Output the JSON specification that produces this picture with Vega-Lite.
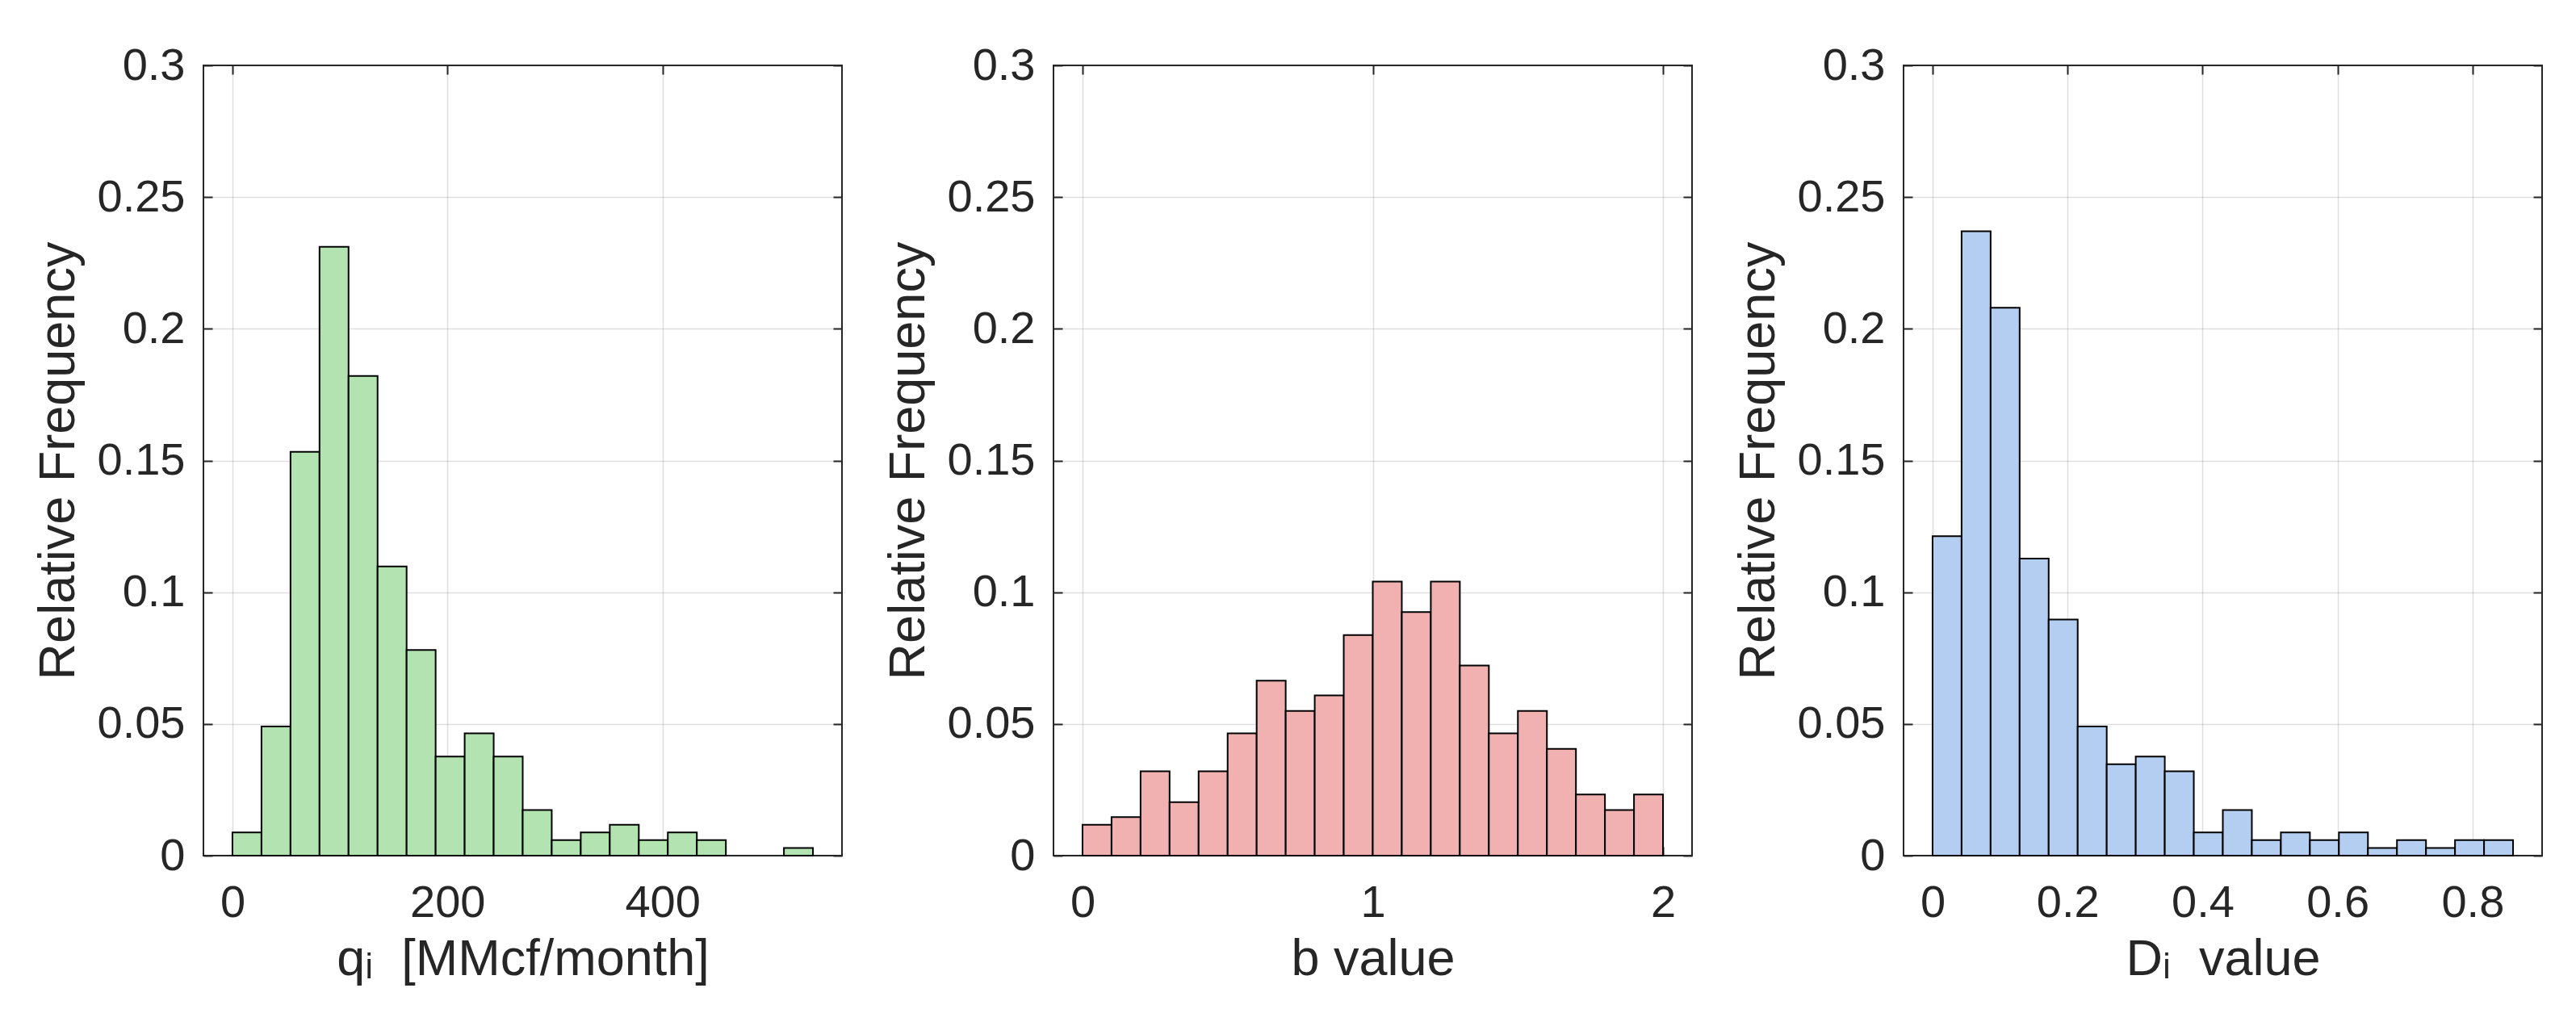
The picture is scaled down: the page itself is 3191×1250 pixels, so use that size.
{
  "$schema": "https://vega.github.io/schema/vega-lite/v6.json",
  "background": "white",
  "padding": {"left": 40, "top": 52, "right": 10, "bottom": 10},
  "bounds": "flush",
  "spacing": 262,
  "datasets": {
    "q": [
      {"x0": 0, "x1": 27, "f": 0.0088},
      {"x0": 27, "x1": 54, "f": 0.049},
      {"x0": 54, "x1": 81, "f": 0.1533},
      {"x0": 81, "x1": 108, "f": 0.2311},
      {"x0": 108, "x1": 135, "f": 0.1821},
      {"x0": 135, "x1": 162, "f": 0.1098},
      {"x0": 162, "x1": 189, "f": 0.0781},
      {"x0": 189, "x1": 216, "f": 0.0376},
      {"x0": 216, "x1": 243, "f": 0.0464},
      {"x0": 243, "x1": 270, "f": 0.0376},
      {"x0": 270, "x1": 297, "f": 0.0173},
      {"x0": 297, "x1": 324, "f": 0.0059},
      {"x0": 324, "x1": 351, "f": 0.0088},
      {"x0": 351, "x1": 378, "f": 0.0117},
      {"x0": 378, "x1": 405, "f": 0.0059},
      {"x0": 405, "x1": 432, "f": 0.0088},
      {"x0": 432, "x1": 459, "f": 0.0059},
      {"x0": 513, "x1": 540, "f": 0.0029}
    ],
    "b": [
      {"x0": 0.0, "x1": 0.1, "f": 0.0117},
      {"x0": 0.1, "x1": 0.2, "f": 0.0146},
      {"x0": 0.2, "x1": 0.3, "f": 0.032},
      {"x0": 0.3, "x1": 0.4, "f": 0.0203},
      {"x0": 0.4, "x1": 0.5, "f": 0.032},
      {"x0": 0.5, "x1": 0.6, "f": 0.0464},
      {"x0": 0.6, "x1": 0.7, "f": 0.0664},
      {"x0": 0.7, "x1": 0.8, "f": 0.0549},
      {"x0": 0.8, "x1": 0.9, "f": 0.0608},
      {"x0": 0.9, "x1": 1.0, "f": 0.0837},
      {"x0": 1.0, "x1": 1.1, "f": 0.104},
      {"x0": 1.1, "x1": 1.2, "f": 0.0925},
      {"x0": 1.2, "x1": 1.3, "f": 0.104},
      {"x0": 1.3, "x1": 1.4, "f": 0.0722},
      {"x0": 1.4, "x1": 1.5, "f": 0.0464},
      {"x0": 1.5, "x1": 1.6, "f": 0.0549},
      {"x0": 1.6, "x1": 1.7, "f": 0.0405},
      {"x0": 1.7, "x1": 1.8, "f": 0.0232},
      {"x0": 1.8, "x1": 1.9, "f": 0.0173},
      {"x0": 1.9, "x1": 2.0, "f": 0.0232}
    ],
    "d": [
      {"x0": 0.0, "x1": 0.043, "f": 0.1213},
      {"x0": 0.043, "x1": 0.086, "f": 0.237},
      {"x0": 0.086, "x1": 0.129, "f": 0.208},
      {"x0": 0.129, "x1": 0.172, "f": 0.1128},
      {"x0": 0.172, "x1": 0.215, "f": 0.0896},
      {"x0": 0.215, "x1": 0.258, "f": 0.049},
      {"x0": 0.258, "x1": 0.301, "f": 0.0347},
      {"x0": 0.301, "x1": 0.344, "f": 0.0376},
      {"x0": 0.344, "x1": 0.387, "f": 0.032},
      {"x0": 0.387, "x1": 0.43, "f": 0.0088},
      {"x0": 0.43, "x1": 0.473, "f": 0.0173},
      {"x0": 0.473, "x1": 0.516, "f": 0.0059},
      {"x0": 0.516, "x1": 0.559, "f": 0.0088},
      {"x0": 0.559, "x1": 0.602, "f": 0.0059},
      {"x0": 0.602, "x1": 0.645, "f": 0.0088},
      {"x0": 0.645, "x1": 0.688, "f": 0.0029},
      {"x0": 0.688, "x1": 0.731, "f": 0.0059},
      {"x0": 0.731, "x1": 0.774, "f": 0.0029},
      {"x0": 0.774, "x1": 0.817, "f": 0.0059},
      {"x0": 0.817, "x1": 0.86, "f": 0.0059}
    ]
  },
  "config": {
    "font": "Liberation Sans",
    "view": {"stroke": "#262626", "strokeWidth": 2},
    "axis": {
      "labelFont": "Liberation Sans",
      "titleFont": "Liberation Sans",
      "labelFontSize": 56,
      "titleFontSize": 63,
      "labelColor": "#262626",
      "titleColor": "#262626",
      "titleFontWeight": "normal",
      "gridColor": "#262626",
      "gridOpacity": 0.15,
      "gridWidth": 1.5,
      "domain": false,
      "tickColor": "#262626",
      "tickWidth": 2,
      "tickSize": -11,
      "zindex": 1
    }
  },
  "hconcat": [
    {
      "width": 791, "height": 979,
      "data": {"name": "q"},
      "layer": [
        {
          "mark": {"type": "bar", "fill": "#b3e3b0", "stroke": "#000000", "strokeWidth": 2},
          "encoding": {
            "x": {"field": "x0", "type": "quantitative",
                  "scale": {"domain": [-27, 567], "nice": false, "zero": false},
                  "axis": {"orient": "bottom", "values": [0, 200, 400], "format": "~r", "title": "qᵢ\u00a0\u00a0[MMcf/month]", "labelPadding": 42, "titlePadding": 11}},
            "x2": {"field": "x1"},
            "y": {"field": "f", "type": "quantitative",
                  "scale": {"domain": [0, 0.3], "nice": false, "zero": true},
                  "axis": {"orient": "left", "values": [0, 0.05, 0.1, 0.15, 0.2, 0.25, 0.3], "format": "~r", "title": "Relative Frequency", "labelPadding": 34, "titlePadding": 16}},
            "y2": {"datum": 0}
          }
        },
        {
          "mark": {"type": "rule", "opacity": 0},
          "encoding": {
            "x": {"field": "x0", "type": "quantitative",
                  "axis": {"orient": "top", "values": [0, 200, 400], "labels": false, "grid": false, "title": null}},
            "y": {"field": "f", "type": "quantitative",
                  "axis": {"orient": "right", "values": [0, 0.05, 0.1, 0.15, 0.2, 0.25, 0.3], "labels": false, "grid": false, "title": null}}
          }
        }
      ],
      "resolve": {"axis": {"x": "independent", "y": "independent"}}
    },
    {
      "width": 791, "height": 979,
      "data": {"name": "b"},
      "layer": [
        {
          "mark": {"type": "bar", "fill": "#f1b1b1", "stroke": "#000000", "strokeWidth": 2},
          "encoding": {
            "x": {"field": "x0", "type": "quantitative",
                  "scale": {"domain": [-0.1, 2.1], "nice": false, "zero": false},
                  "axis": {"orient": "bottom", "values": [0, 1, 2], "format": "~r", "title": "b value", "labelPadding": 42, "titlePadding": 11}},
            "x2": {"field": "x1"},
            "y": {"field": "f", "type": "quantitative",
                  "scale": {"domain": [0, 0.3], "nice": false, "zero": true},
                  "axis": {"orient": "left", "values": [0, 0.05, 0.1, 0.15, 0.2, 0.25, 0.3], "format": "~r", "title": "Relative Frequency", "labelPadding": 34, "titlePadding": 16}},
            "y2": {"datum": 0}
          }
        },
        {
          "mark": {"type": "rule", "opacity": 0},
          "encoding": {
            "x": {"field": "x0", "type": "quantitative",
                  "axis": {"orient": "top", "values": [0, 1, 2], "labels": false, "grid": false, "title": null}},
            "y": {"field": "f", "type": "quantitative",
                  "axis": {"orient": "right", "values": [0, 0.05, 0.1, 0.15, 0.2, 0.25, 0.3], "labels": false, "grid": false, "title": null}}
          }
        }
      ],
      "resolve": {"axis": {"x": "independent", "y": "independent"}}
    },
    {
      "width": 791, "height": 979,
      "data": {"name": "d"},
      "layer": [
        {
          "mark": {"type": "bar", "fill": "#b3cef1", "stroke": "#000000", "strokeWidth": 2},
          "encoding": {
            "x": {"field": "x0", "type": "quantitative",
                  "scale": {"domain": [-0.043, 0.903], "nice": false, "zero": false},
                  "axis": {"orient": "bottom", "values": [0, 0.2, 0.4, 0.6, 0.8], "format": "~r", "title": "Dᵢ\u00a0\u00a0value", "labelPadding": 42, "titlePadding": 11}},
            "x2": {"field": "x1"},
            "y": {"field": "f", "type": "quantitative",
                  "scale": {"domain": [0, 0.3], "nice": false, "zero": true},
                  "axis": {"orient": "left", "values": [0, 0.05, 0.1, 0.15, 0.2, 0.25, 0.3], "format": "~r", "title": "Relative Frequency", "labelPadding": 34, "titlePadding": 16}},
            "y2": {"datum": 0}
          }
        },
        {
          "mark": {"type": "rule", "opacity": 0},
          "encoding": {
            "x": {"field": "x0", "type": "quantitative",
                  "axis": {"orient": "top", "values": [0, 0.2, 0.4, 0.6, 0.8], "labels": false, "grid": false, "title": null}},
            "y": {"field": "f", "type": "quantitative",
                  "axis": {"orient": "right", "values": [0, 0.05, 0.1, 0.15, 0.2, 0.25, 0.3], "labels": false, "grid": false, "title": null}}
          }
        }
      ],
      "resolve": {"axis": {"x": "independent", "y": "independent"}}
    }
  ]
}
